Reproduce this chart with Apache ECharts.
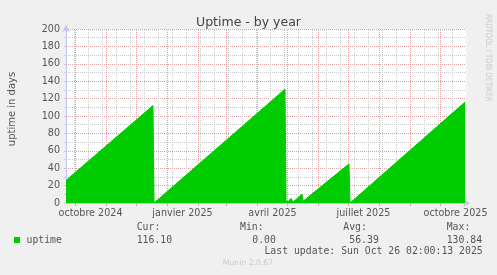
<!DOCTYPE html>
<html><head><meta charset="utf-8">
<script src="https://cdn.jsdelivr.net/npm/echarts@6/dist/echarts.min.js"></script>
<style>html,body{margin:0;padding:0;background:#f0f0f0;}#c{width:497px;height:275px;}</style>
</head><body><div id="c"></div>
<script>
// ---- data ----
const pointDates = ['2024-09-22','2024-12-18','2024-12-19','2024-12-21','2025-04-29','2025-04-30','2025-05-03','2025-05-05','2025-05-07','2025-05-16','2025-05-17','2025-05-19','2025-07-02','2025-07-03','2025-07-05','2025-10-26T02:00:13'];
const pointValues = [26, 112, 0, 1, 130.84, 2, 2, 5.5, 1, 10.3, 2, 2, 45, 0, 1, 116.1];

const majorGridDates = ['2024-10-01','2024-11-01','2024-12-01','2025-01-01','2025-02-01','2025-03-01','2025-04-01','2025-05-01','2025-06-01','2025-07-01','2025-08-01','2025-09-01','2025-10-01'];
const minorGridDates = ['2024-09-30','2024-10-14','2024-10-28','2024-11-11','2024-11-25','2024-12-09','2024-12-23','2025-01-06','2025-01-20','2025-02-03','2025-02-17','2025-03-03','2025-03-17','2025-03-31','2025-04-14','2025-04-28','2025-05-12','2025-05-26','2025-06-09','2025-06-23','2025-07-07','2025-07-21','2025-08-04','2025-08-18','2025-09-01','2025-09-15','2025-09-29','2025-10-13'];
const monthLabelDates = ['2024-10-16T12:00:00','2025-01-16T12:00:00','2025-04-16T12:00:00','2025-07-16T12:00:00','2025-10-16T12:00:00'];
const monthLabelTexts = ['octobre 2024','janvier 2025','avril 2025','juillet 2025','octobre 2025'];
const yTickValues = [0,20,40,60,80,100,120,140,160,180,200];
const yTickLabels = ['0','20','40','60','80','100','120','140','160','180','200'];
const seriesName = 'uptime';
const legendHeaders = ['Cur:','Min:','Avg:','Max:'];
const legendValues = ['116.10','0.00','56.39','130.84'];
const lastUpdate = 'Last update: Sun Oct 26 02:00:13 2025';
const titleText = 'Uptime - by year';
const yAxisTitle = 'uptime in days';
const xMinDate = '2024-09-22';
const xMaxDate = '2025-10-27';

// ---- build ----
const ts = s => Date.parse(s.length === 10 ? s + 'T00:00:00Z' : s + 'Z');
const seriesData = pointDates.map((d, i) => [ts(d), pointValues[i]]);
const labelTs = monthLabelDates.map(ts);

const RED = '#e4a0a0', GRAY = '#cccccc', AXIS = '#bcc4f2', GREEN = '#00cc00';
const mono = '"DejaVu Sans Mono", monospace';
const sans = '"DejaVu Sans", sans-serif';

const markData = [];
minorGridDates.forEach(d => markData.push({xAxis: ts(d), lineStyle: {color: GRAY, type: [1, 1], width: 1}}));
majorGridDates.forEach(d => markData.push({xAxis: ts(d), lineStyle: {color: RED, type: [1, 1], width: 1}}));

const chart = echarts.init(document.getElementById('c'), null, {renderer: 'canvas'});
const legendCols = [136.7, 240, 343.3, 446.7];
const valueCols = [136.7, 252.3, 349.3, 446.7];
const graphics = [
  {type: 'rect', shape: {x: 14, y: 237, width: 6, height: 6}, style: {fill: GREEN}},
  {type: 'text', x: 26.5, y: 240, style: {text: seriesName, font: '9.8px ' + mono, fill: '#555', textVerticalAlign: 'middle'}},
  {type: 'text', x: 482.7, y: 251.8, style: {text: lastUpdate, font: '9.8px ' + mono, fill: '#555', textAlign: 'right', textVerticalAlign: 'middle'}},
  {type: 'text', x: 248, y: 263.5, style: {text: 'Munin 2.0.67', font: '7.7px ' + sans, fill: '#c8c8c8', textAlign: 'center', textVerticalAlign: 'middle'}},
  {type: 'text', x: 488.5, y: 14, rotation: -Math.PI / 2, scaleY: 1.25, style: {text: 'RRDTOOL / TOBI OETIKER', font: '6.8px ' + sans, fill: '#c8c8c8', textAlign: 'left', textVerticalAlign: 'middle'}},
  {type: 'text', x: 12, y: 109, rotation: Math.PI / 2, style: {text: yAxisTitle, font: '10px ' + sans, fill: '#555', textAlign: 'center', textVerticalAlign: 'middle'}}
];
legendHeaders.forEach((h, i) => graphics.push({type: 'text', x: legendCols[i], y: 227.3, style: {text: h, font: '9.8px ' + mono, fill: '#555', textVerticalAlign: 'middle'}}));
legendValues.forEach((v, i) => graphics.push({type: 'text', x: valueCols[i], y: 240, style: {text: v, font: '9.8px ' + mono, fill: '#555', textVerticalAlign: 'middle'}}));

chart.setOption({
  backgroundColor: '#f0f0f0',
  animation: false,
  title: {text: titleText, left: 'center', top: 11, textStyle: {fontFamily: sans, fontSize: 12.5, fontWeight: 'normal', color: '#444'}},
  grid: {left: 66, right: 31, top: 29, bottom: 72, show: true, backgroundColor: '#ffffff', borderWidth: 0},
  xAxis: [{
    type: 'value', min: ts(xMinDate), max: ts(xMaxDate),
    axisLine: {show: true, onZero: false, lineStyle: {color: AXIS, width: 1}, symbol: ['none', 'arrow'], symbolSize: [6, 7], symbolOffset: [0, 4]},
    axisTick: {show: true, customValues: majorGridDates.map(ts), length: 3, lineStyle: {color: RED}},
    axisLabel: {show: true, customValues: labelTs, margin: 5, fontFamily: sans, fontSize: 9.6, color: '#555',
      formatter: v => { const i = labelTs.indexOf(+v); return i >= 0 ? monthLabelTexts[i] : ''; }},
    splitLine: {show: false}
  }],
  yAxis: [{
    type: 'value', min: 0, max: 200, interval: 10,
    axisLine: {show: true, lineStyle: {color: AXIS, width: 1}, symbol: ['none', 'arrow'], symbolSize: [6, 7], symbolOffset: [0, 4]},
    axisTick: {show: true, length: 2, lineStyle: {color: GRAY}},
    axisLabel: {show: true, customValues: yTickValues, margin: 6, fontFamily: sans, fontSize: 9.6, color: '#555',
      formatter: v => { const i = yTickValues.indexOf(+v); return i >= 0 ? yTickLabels[i] : ''; }},
    splitLine: {show: true, lineStyle: {color: [RED, GRAY], type: [1, 1], width: 1}}
  }],
  series: [
    {type: 'line', data: [], z: 1, silent: true,
      markLine: {z: 1, silent: true, symbol: ['none', 'none'], label: {show: false}, animation: false, data: markData}},
    {type: 'line', name: seriesName, data: seriesData, z: 4, symbol: 'none', silent: true,
      lineStyle: {color: GREEN, width: 1}, areaStyle: {color: GREEN, opacity: 1}}
  ],
  graphic: graphics
});
</script></body></html>
